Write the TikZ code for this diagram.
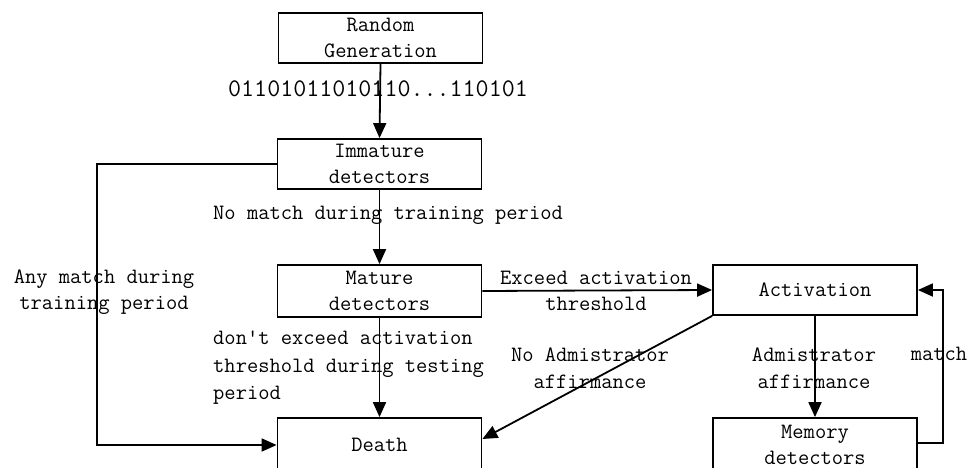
\documentclass[tikz,border=0pt]{standalone}
\usepackage{fontspec}
\usetikzlibrary{arrows.meta}
\begin{document}
\begin{tikzpicture}[x=1pt,y=-1pt,
  font=\ttfamily\fontsize{21.9pt}{26.5pt}\selectfont,
  stage/.style={draw, line width=1.8pt, minimum width=204pt, inner sep=0pt,
    align=center, text=black},
  lbl/.style={inner sep=0pt, text=black},
  flow/.style={line width=1.8pt, -{Triangle[length=15pt,width=13pt]}}]
\useasboundingbox (0,0) rectangle (971,468);
\clip (0,0) rectangle (971,468);

% stages
\node[stage, minimum height=50pt] (rg)  at (380.5,38)  {Random\\Generation};
\node[stage, minimum height=50pt] (im)  at (379.5,164) {Immature\\detectors};
\node[stage, minimum height=52pt] (ma)  at (379.5,291) {Mature\\detectors};
\node[stage, minimum height=54pt] (de)  at (379.5,445) {Death};
\node[stage, minimum height=50pt] (ac)  at (815,290)   {Activation};
\node[stage, minimum height=54pt] (me)  at (815,445)   {Memory\\detectors};

% transitions
\draw[flow] (rg.south) -- (im.north);
\draw[flow] (im.south) -- (ma.north);
\draw[flow] (ma.south) -- (de.north);
\draw[flow] (im.west) -- ++(-180,0) coordinate (lt) |- (de.west);
\draw[flow] (ma.east) -- (ac.west);
\draw[flow] (ac.south west) -- ([yshift=6pt]de.east);
\draw[flow] (ac.south) -- (me.north);
\draw[flow] ([yshift=2pt]me.east) -- ++(25,0) coordinate (rt) |- (ac.east);

% labels
\node[lbl, font=\ttfamily\fontsize{25.3pt}{26pt}\selectfont] (bits) at (378,89) {01101011010110...110101};
\node[lbl, anchor=west] (nm) at (213,215) {No match during training period};
\node[lbl, align=center] (am) at (104,292) {Any match during\\training period};
\node[lbl, align=left, anchor=west, font=\ttfamily\fontsize{21.9pt}{27.5pt}\selectfont] (dx) at (213,368) {don't exceed activation\\threshold during testing\\period};
\node[lbl, align=center] (ex) at (596,291) {Exceed activation\\threshold};
\node[lbl, align=center] (na) at (590,368) {No Admistrator\\affirmance};
\node[lbl, align=center] (aa) at (814,368) {Admistrator\\affirmance};
\node[lbl] (mt) at (939,354) {match};
\end{tikzpicture}
\end{document}
